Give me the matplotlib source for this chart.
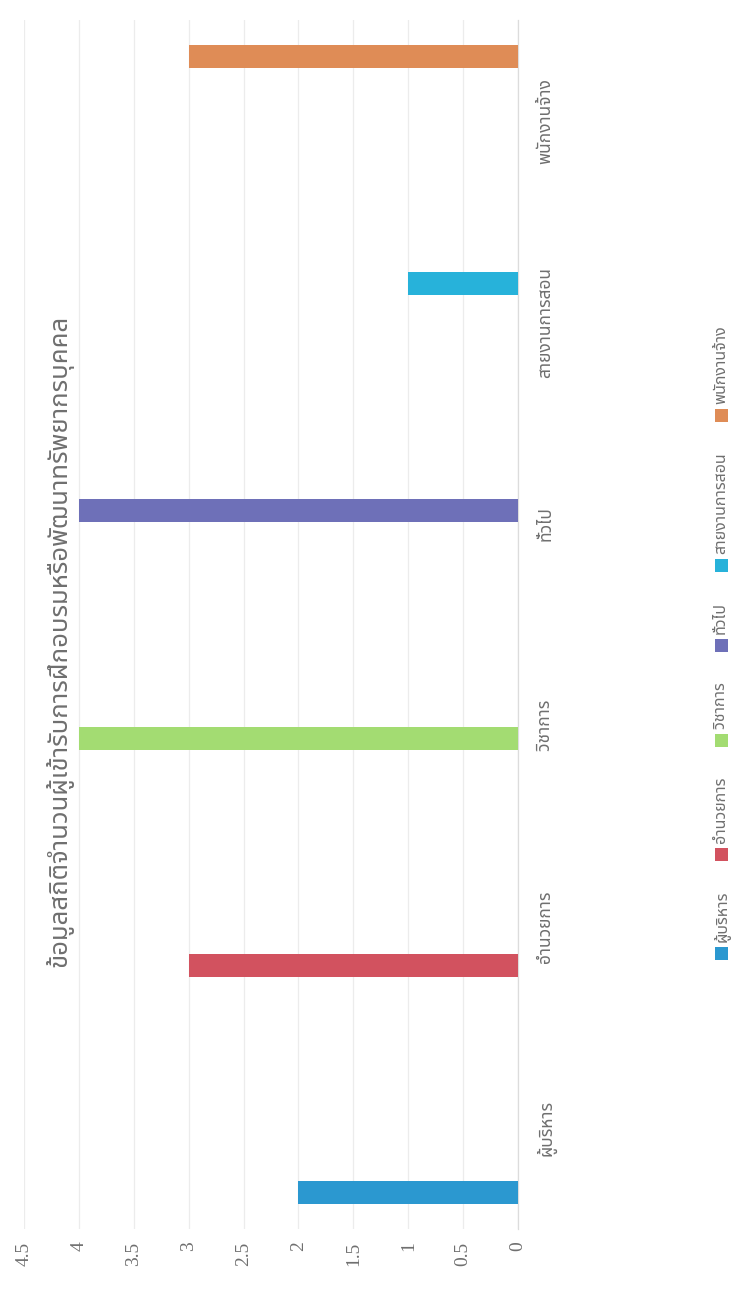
import matplotlib
matplotlib.use("Agg")
import matplotlib.pyplot as plt
from matplotlib import font_manager
from matplotlib.ft2font import FT2Font
from matplotlib.patches import Rectangle

# ---------------- data ----------------
categories = ["ผู้บริหาร", "อำนวยการ", "วิชาการ", "ทั่วไป", "สายงานการสอน", "พนักงานจ้าง"]
series_names = ["ผู้บริหาร", "อำนวยการ", "วิชาการ", "ทั่วไป", "สายงานการสอน", "พนักงานจ้าง"]
values = [2, 3, 4, 4, 1, 3]          # each series has a value only in its own category
series_colors = ["#2B98D0", "#D2525F", "#A3DC72", "#6E70B8", "#27B2DA", "#DF8C56"]
value_ticks = [0, 0.5, 1, 1.5, 2, 2.5, 3, 3.5, 4, 4.5]
value_tick_labels = ["0", "0.5", "1", "1.5", "2", "2.5", "3", "3.5", "4", "4.5"]
title = "ข้อมูลสถิติจำนวนผู้เข้ารับการฝึกอบรมหรือพัฒนาทรัพยากรบุคคล"


def find_thai_font():
    preferred = ["Noto Sans Thai", "Noto Sans Thai UI", "Noto Serif Thai", "Tahoma",
                 "Leelawadee UI", "Loma", "Garuda", "Waree", "Sawasdee", "Umpush",
                 "Kinnari", "Norasi", "Laksaman", "Tlwg Typo", "Purisa"]
    found = []
    for f in font_manager.fontManager.ttflist:
        try:
            cmap = FT2Font(f.fname).get_charmap()
            if 0x0E01 in cmap and 0x0E49 in cmap and 0x0E32 in cmap:
                found.append(f.name)
        except Exception:
            pass
    for p in preferred:
        if p in found:
            return p
    return found[0] if found else "DejaVu Sans"


thai = find_thai_font()
thai_family = [thai, "DejaVu Sans"]
num_family = ["Liberation Serif", "DejaVu Serif"]
text_color = "#6f6f6f"

W, H = 749, 1301
fig = plt.figure(figsize=(W / 100, H / 100), dpi=100)
fig.patch.set_facecolor("white")

# axes in pixel layout (chart is rotated 90deg CCW on the page)
ax_left, ax_right, ax_top, ax_bottom = 24, 518, 20, 1229
ax = fig.add_axes([ax_left / W, (H - ax_bottom) / H,
                   (ax_right - ax_left) / W, (ax_bottom - ax_top) / H])

n = len(series_names)
step = 0.128
bar_h = 0.115
for i, (name, v, c) in enumerate(zip(series_names, values, series_colors)):
    ypos = i + (i - (n - 1) / 2) * step
    ax.barh([ypos], [v], height=bar_h, color=c, edgecolor="none", zorder=3)

ax.set_xlim(4.5, 0)
ax.set_ylim(-0.5, len(categories) - 0.5)

ax.set_xticks(value_ticks)
ax.set_xticklabels(value_tick_labels, rotation=90, family=num_family,
                   fontsize=14, color=text_color)
ax.tick_params(axis="x", length=0, pad=9)

ax.yaxis.tick_right()
ax.set_yticks(range(len(categories)))
ax.set_yticklabels(categories, rotation=90, va="center", ha="left",
                   family=thai_family, fontsize=12.5, color=text_color)
ax.tick_params(axis="y", length=0, pad=13)

ax.grid(axis="x", color="#ececec", linewidth=0.9, zorder=0)
for s in ["top", "bottom", "left"]:
    ax.spines[s].set_visible(False)
ax.spines["right"].set_color("#dcdcdc")
ax.spines["right"].set_linewidth(0.9)

# title (rotated, overlapping the plot on the left)
fig.text(60 / W, 1 - 641 / H, title, rotation=90, ha="center", va="center",
         family=thai_family, fontsize=18.5, color=text_color)

# legend drawn rotated, reading bottom to top
fig.canvas.draw()
renderer = fig.canvas.get_renderer()
leg_x = 721
sq = 13
gap_txt = 5
gap_item = 30
leg_fs = 11.5
lengths = []
for name in series_names:
    t = fig.text(0, 0, name, rotation=90, family=thai_family, fontsize=leg_fs)
    bb = t.get_window_extent(renderer)
    lengths.append(bb.height)
    t.remove()
total = sum(sq + gap_txt + L for L in lengths) + gap_item * (n - 1)
y_cursor = 643 + total / 2   # bottom (pixel, from top)
for name, c, L in zip(series_names, series_colors, lengths):
    sq_bottom = y_cursor
    fig.patches.append(Rectangle(((leg_x - sq / 2) / W, 1 - sq_bottom / H), sq / W, sq / H,
                                 transform=fig.transFigure, facecolor=c, edgecolor="none"))
    txt_bottom = sq_bottom - sq - gap_txt
    fig.text(leg_x / W, 1 - txt_bottom / H, name, rotation=90, ha="center", va="bottom",
             family=thai_family, fontsize=leg_fs, color=text_color)
    y_cursor = txt_bottom - L - gap_item

fig.savefig("out.png", dpi=100, facecolor="white")
